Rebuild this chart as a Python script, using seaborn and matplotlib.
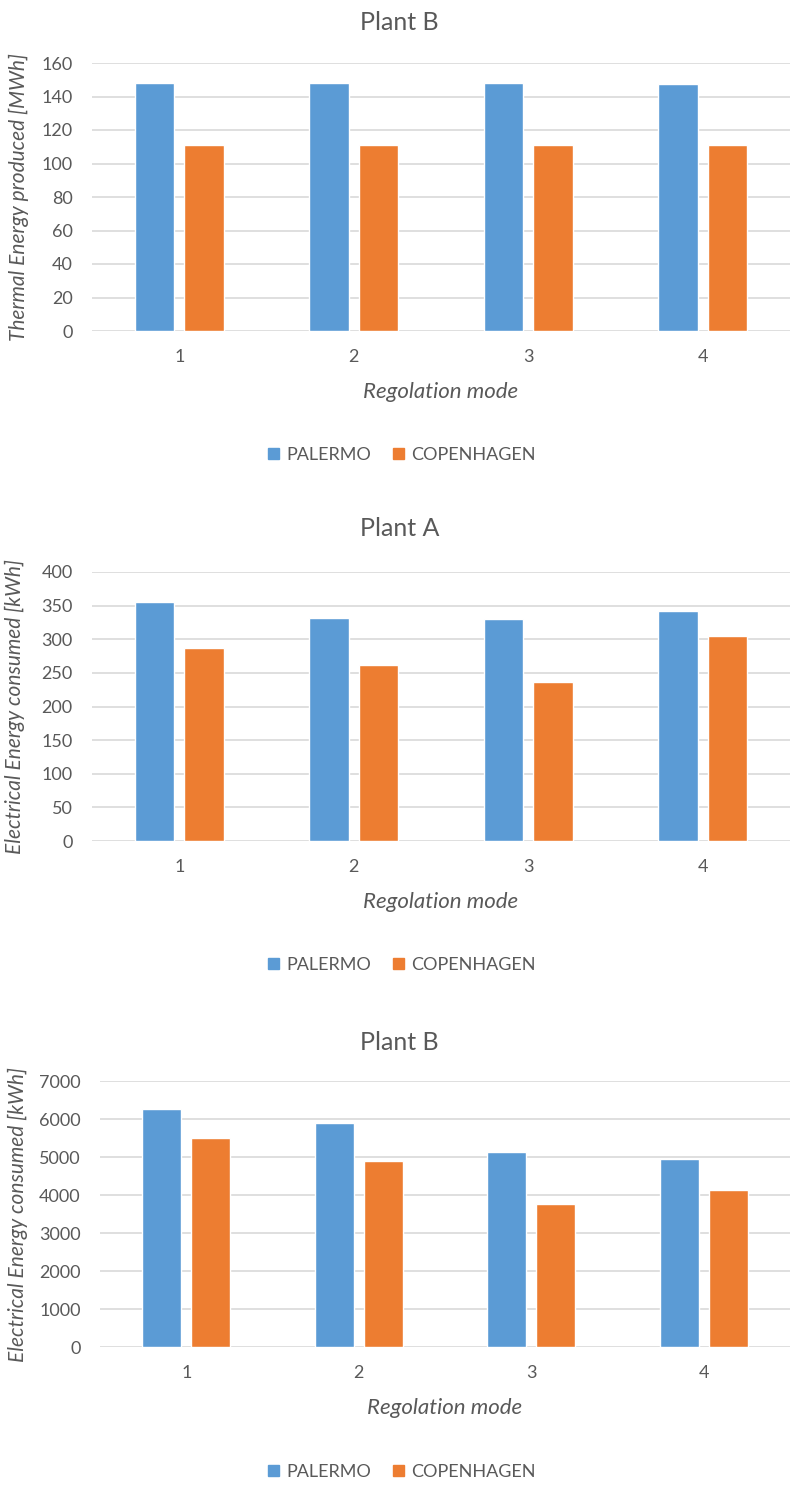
import pandas as pd
import matplotlib.pyplot as plt
import seaborn as sns

modes = ["1", "2", "3", "4"]
cities = ["PALERMO", "COPENHAGEN"]

thermal_b_palermo = [148, 148, 148, 147.2]
thermal_b_copenhagen = [111, 111, 111, 111]

elec_a_palermo = [355, 332, 330, 342]
elec_a_copenhagen = [287, 261, 236, 305]

elec_b_palermo = [6275, 5895, 5125, 4945]
elec_b_copenhagen = [5510, 4890, 3765, 4120]

titles = ["Plant B", "Plant A", "Plant B"]
ylabels = ["Thermal Energy produced [MWh]",
           "Electrical Energy consumed [kWh]",
           "Electrical Energy consumed [kWh]"]
xlabel = "Regolation mode"

sns.set_style("white")
plt.rcParams['font.family'] = ['Lato', 'DejaVu Sans']
grey = "#595959"
colors = ["#5b9bd5", "#ed7d31"]

W, H = 791, 1485
fig = plt.figure(figsize=(W / 100, H / 100), dpi=100)


def frame(pal, cop):
    return pd.DataFrame({
        "mode": modes * 2,
        "city": [cities[0]] * 4 + [cities[1]] * 4,
        "value": pal + cop,
    })


# pixel layout: plot area box (left, top, right, bottom), title y, legend y, ylabel right edge
layout = [
    dict(box=(92, 63, 790, 331), title_y=22, leg_y=455, ylab_x=29, ylim=(0, 160), step=20),
    dict(box=(92, 572, 790, 841), title_y=528, leg_y=965, ylab_x=25, ylim=(0, 400), step=50),
    dict(box=(100, 1081, 790, 1347), title_y=1042, leg_y=1472, ylab_x=28, ylim=(0, 7000), step=1000),
]
data = [
    frame(thermal_b_palermo, thermal_b_copenhagen),
    frame(elec_a_palermo, elec_a_copenhagen),
    frame(elec_b_palermo, elec_b_copenhagen),
]

for i, (df, lay) in enumerate(zip(data, layout)):
    l, t, r, b = lay["box"]
    ax = fig.add_axes([l / W, 1 - b / H, (r - l) / W, (b - t) / H])
    sns.barplot(data=df, x="mode", y="value", hue="city", order=modes,
                hue_order=cities, palette=colors, width=0.567, gap=0.2,
                saturation=1, ax=ax, legend=False)
    lo, hi = lay["ylim"]
    ax.set_ylim(lo, hi)
    ax.set_yticks(range(lo, hi + 1, lay["step"]))
    ax.set_xlim(-0.5, 3.5)
    ax.grid(axis="y", color="#d9d9d9", linewidth=1.2)
    ax.set_axisbelow(True)
    for s in ax.spines.values():
        s.set_visible(False)
    ax.tick_params(axis="both", length=0, labelsize=13, labelcolor=grey)
    ax.tick_params(axis="y", pad=14)
    ax.tick_params(axis="x", pad=13)
    ax.set_xlabel("")
    ax.set_ylabel(ylabels[i], fontsize=15, style="italic", color=grey)
    ax.yaxis.set_label_coords((lay["ylab_x"] - l) / (r - l), 0.5)

    fig.text(0.505, 1 - lay["title_y"] / H, titles[i], ha="center", va="center",
             fontsize=18, color=grey)
    fig.text((l + r) / 2 / W, 1 - (b + 61) / H, xlabel, ha="center", va="center",
             fontsize=16, style="italic", color=grey)

    handles = [plt.Rectangle((0, 0), 1, 1, color=c) for c in colors]
    fig.legend(handles, cities, loc="center", bbox_to_anchor=(0.508, 1 - lay["leg_y"] / H),
               ncol=2, frameon=False, fontsize=13, labelcolor=grey,
               handlelength=0.6, handleheight=0.6, handletextpad=0.4, columnspacing=1.2)

fig.savefig("out.png", dpi=100)
